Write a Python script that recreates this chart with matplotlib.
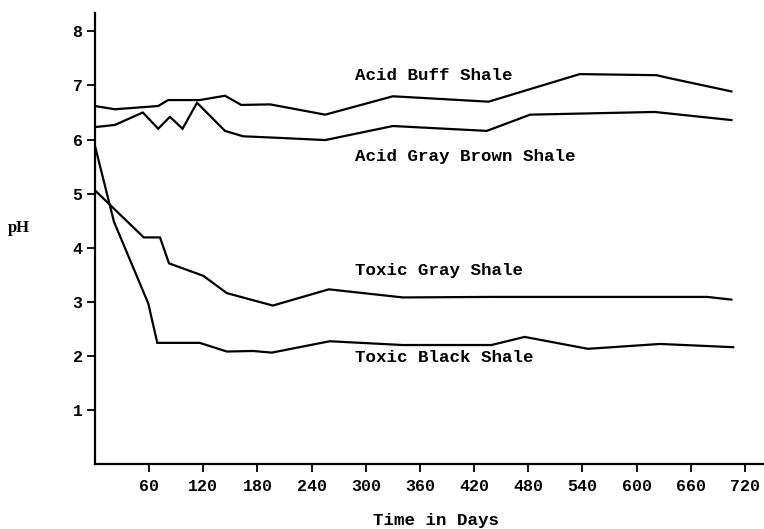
import matplotlib
matplotlib.use("Agg")
import matplotlib.pyplot as plt

# Data (days, pH)
buff_days = [0, 22, 70, 81, 116, 144, 162, 194, 255, 330, 436, 537, 622, 635, 705]
buff_ph = [6.62, 6.56, 6.62, 6.73, 6.73, 6.81, 6.64, 6.65, 6.46, 6.80, 6.70, 7.21, 7.19, 7.14, 6.89]

graybrown_days = [0, 22, 53, 70, 83, 97, 113, 144, 164, 205, 255, 330, 434, 482, 620, 705]
graybrown_ph = [6.23, 6.27, 6.50, 6.20, 6.42, 6.20, 6.68, 6.16, 6.06, 6.03, 5.99, 6.25, 6.16, 6.46, 6.51, 6.36]

toxgray_days = [0, 54, 72, 82, 120, 146, 197, 259, 341, 440, 678, 705]
toxgray_ph = [5.06, 4.19, 4.19, 3.71, 3.48, 3.16, 2.93, 3.23, 3.08, 3.09, 3.09, 3.04]

toxblack_days = [0, 21, 59, 69, 116, 146, 175, 196, 260, 341, 439, 476, 546, 626, 707]
toxblack_ph = [5.88, 4.48, 2.97, 2.24, 2.24, 2.08, 2.09, 2.06, 2.27, 2.20, 2.20, 2.35, 2.13, 2.22, 2.16]

series_labels = ["Acid Buff Shale", "Acid Gray Brown Shale", "Toxic Gray Shale", "Toxic Black Shale"]
label_pos = [(288, 7.19), (288, 5.69), (288, 3.57), (288, 1.97)]

x_ticks = [60, 120, 180, 240, 300, 360, 420, 480, 540, 600, 660, 720]
y_ticks = [1, 2, 3, 4, 5, 6, 7, 8]

font = dict(family=["Liberation Mono", "DejaVu Sans Mono"], weight="bold")

fig = plt.figure(figsize=(7.64, 5.29), dpi=100)
ax = fig.add_axes([95 / 764, 1 - 464 / 529, (763 - 95) / 764, (464 - 13) / 529])

for d, p in [(buff_days, buff_ph), (graybrown_days, graybrown_ph),
             (toxgray_days, toxgray_ph), (toxblack_days, toxblack_ph)]:
    ax.plot(d, p, color="black", lw=1.6, solid_joinstyle="miter")

for lab, (lx, ly) in zip(series_labels, label_pos):
    ax.text(lx, ly, lab, fontsize=12.6, va="center", ha="left", **font)

ax.set_xlim(0, 740)
ax.set_ylim(0, 8.34)
ax.set_xticks(x_ticks)
ax.set_yticks(y_ticks)
ax.set_xticklabels([str(t) for t in x_ticks], fontsize=12, **font)
ax.set_yticklabels([str(t) for t in y_ticks], fontsize=12, **font)
ax.tick_params(axis="both", direction="out", length=6, width=1.3)
ax.tick_params(axis="x", pad=5)
ax.tick_params(axis="y", pad=3)
for s in ["top", "right"]:
    ax.spines[s].set_visible(False)
for s in ["left", "bottom"]:
    ax.spines[s].set_linewidth(1.6)

fig.text(436 / 764, 1 - 521 / 529, "Time in Days", ha="center", va="center", fontsize=12.6, **font)
fig.text(18.5 / 764, 1 - 228 / 529, "pH", ha="center", va="center", fontsize=12,
         family=["Liberation Serif", "DejaVu Serif"], weight="bold")

fig.savefig("out.png", dpi=100)
